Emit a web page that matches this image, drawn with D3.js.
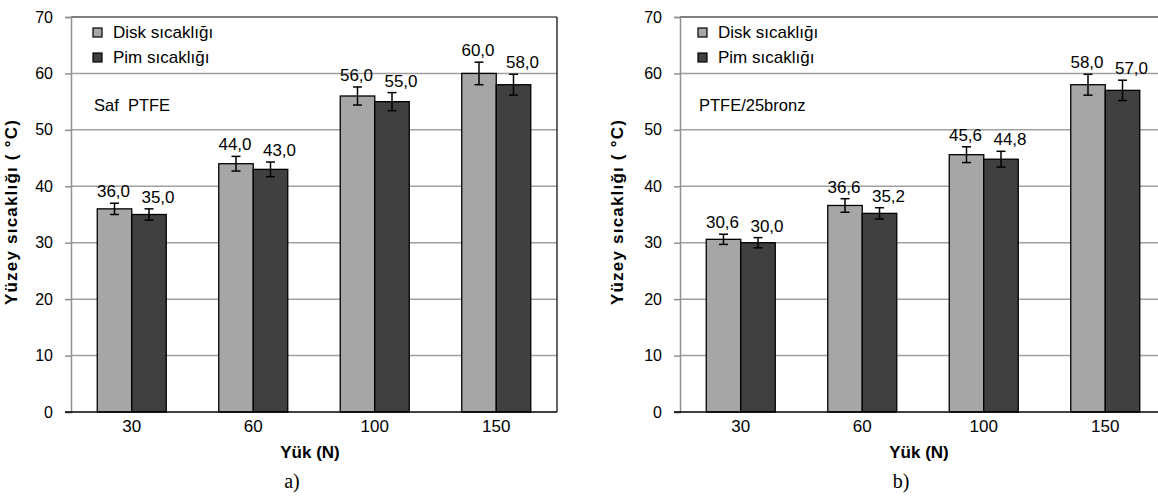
<!DOCTYPE html>
<html>
<head>
<meta charset="utf-8">
<script src="https://cdn.jsdelivr.net/npm/d3@7"></script>
<style>
  body { margin: 0; background: #fff; }
  svg { display: block; }
  text { font-family: Arial, "Liberation Sans", sans-serif; fill: #000; }
</style>
</head>
<body>
<script>
// data
var loads = ["30", "60", "100", "150"];
var seriesNames = ["Disk sıcaklığı", "Pim sıcaklığı"];
var yTicks = [0, 10, 20, 30, 40, 50, 60, 70];

var diskA = [36.0, 44.0, 56.0, 60.0];
var pimA = [35.0, 43.0, 55.0, 58.0];
var diskErrA = [1.0, 1.3, 1.6, 2.0];
var pimErrA = [1.0, 1.3, 1.6, 1.85];

var diskB = [30.6, 36.6, 45.6, 58.0];
var pimB = [30.0, 35.2, 44.8, 57.0];
var diskErrB = [0.9, 1.2, 1.4, 1.85];
var pimErrB = [0.9, 1.0, 1.4, 1.8];

var xTitle = "Yük (N)";
var yTitle = "Yüzey sıcaklığı ( °C)";

var W = 1158, H = 498;
var svg = d3.select("body").append("svg").attr("width", W).attr("height", H);

var fills = ["#a6a6a6", "#404040"];
var fmt = function (v) { return d3.format(".1f")(v).replace(".", ","); };

var panels = [
  { x0: 71, x1: 557, disk: diskA, pim: pimA, dErr: diskErrA, pErr: pimErrA, note: "Saf  PTFE", cap: "a)", legX: 22, labX: 54 },
  { x0: 680, x1: 1166, disk: diskB, pim: pimB, dErr: diskErrB, pErr: pimErrB, note: "PTFE/25bronz", cap: "b)", legX: 18, labX: 57 }
];

var plotTop = 17, plotBottom = 412;
var y = d3.scaleLinear().domain([0, 70]).range([plotBottom, plotTop]);

panels.forEach(function (p) {
  var g = svg.append("g");
  var x = d3.scaleBand().domain(loads).range([p.x0, p.x1]).paddingInner(0.432).paddingOuter(0.216);
  var xs = d3.scaleBand().domain([0, 1]).range([0, x.bandwidth()]);

  // gridlines
  g.selectAll("line.grid").data(yTicks.filter(function (t) { return t > 0 && t < 70; }))
    .enter().append("line")
    .attr("x1", p.x0).attr("x2", p.x1)
    .attr("y1", function (d) { return y(d); }).attr("y2", function (d) { return y(d); })
    .attr("stroke", "#a0a0a0").attr("stroke-width", 1.5);

  // plot border top / right
  g.append("line").attr("x1", p.x0).attr("x2", p.x1).attr("y1", y(70)).attr("y2", y(70))
    .attr("stroke", "#000").attr("stroke-width", 1.2);
  g.append("line").attr("x1", p.x1).attr("x2", p.x1).attr("y1", y(70)).attr("y2", y(0))
    .attr("stroke", "#000").attr("stroke-width", 1.2);

  // y axis
  var yAxis = d3.axisLeft(y).tickValues(yTicks).tickSize(6).tickPadding(12)
    .tickFormat(d3.format("d"));
  var ya = g.append("g").attr("transform", "translate(" + p.x0 + ",0)").call(yAxis);
  ya.select(".domain").attr("stroke", "#909090").attr("stroke-width", 1.5);
  ya.selectAll(".tick line").attr("stroke", "#909090").attr("stroke-width", 1.5);
  ya.selectAll(".tick text").attr("font-size", 16).attr("font-family", "Arial, 'Liberation Sans', sans-serif");

  // bars
  var series = [
    { vals: p.disk, errs: p.dErr, dx: -1 },
    { vals: p.pim, errs: p.pErr, dx: 9 }
  ];
  series.forEach(function (s, si) {
    var sg = g.append("g");
    sg.selectAll("rect").data(loads).enter().append("rect")
      .attr("x", function (d) { return x(d) + xs(si); })
      .attr("y", function (d, i) { return y(s.vals[i]); })
      .attr("width", xs.bandwidth())
      .attr("height", function (d, i) { return y(0) - y(s.vals[i]); })
      .attr("fill", fills[si]).attr("stroke", "#000").attr("stroke-width", 1.3);

    var cx = function (d) { return x(d) + xs(si) + xs.bandwidth() / 2; };
    // error bars
    sg.selectAll("line.err").data(loads).enter().append("line")
      .attr("x1", cx).attr("x2", cx)
      .attr("y1", function (d, i) { return y(s.vals[i] + s.errs[i]); })
      .attr("y2", function (d, i) { return y(s.vals[i] - s.errs[i]); })
      .attr("stroke", "#000").attr("stroke-width", 1.5);
    [1, -1].forEach(function (sign) {
      sg.selectAll(null).data(loads).enter().append("line")
        .attr("x1", function (d) { return cx(d) - 4.5; })
        .attr("x2", function (d) { return cx(d) + 4.5; })
        .attr("y1", function (d, i) { return y(s.vals[i] + sign * s.errs[i]); })
        .attr("y2", function (d, i) { return y(s.vals[i] + sign * s.errs[i]); })
        .attr("stroke", "#000").attr("stroke-width", 1.5);
    });
    // value labels
    sg.selectAll("text").data(loads).enter().append("text")
      .attr("x", function (d) { return cx(d) + s.dx; })
      .attr("y", function (d, i) { return y(s.vals[i] + s.errs[i]) - 6; })
      .attr("text-anchor", "middle").attr("font-size", 17)
      .text(function (d, i) { return fmt(s.vals[i]); });
  });

  // x axis
  var xAxis = d3.axisBottom(x).tickSize(0).tickPadding(8);
  var xa = g.append("g").attr("transform", "translate(0," + plotBottom + ")").call(xAxis);
  xa.select(".domain").remove();
  xa.selectAll(".tick text").attr("font-size", 17).attr("font-family", "Arial, 'Liberation Sans', sans-serif");
  g.append("line").attr("x1", p.x0 - 6).attr("x2", p.x1).attr("y1", plotBottom).attr("y2", plotBottom)
    .attr("stroke", "#000").attr("stroke-width", 1.5);

  // legend
  var lg = g.append("g").attr("transform", "translate(" + (p.x0 + p.legX) + ",28)");
  seriesNames.forEach(function (n, i) {
    lg.append("rect").attr("x", 0).attr("y", i * 25).attr("width", 9).attr("height", 9)
      .attr("fill", fills[i]).attr("stroke", "#000").attr("stroke-width", 1.2);
    lg.append("text").attr("x", 20).attr("y", i * 25 + 9.5).attr("font-size", 17).text(n);
  });

  // panel note
  g.append("text").attr("x", p.x0 + p.legX + 1).attr("y", 111).attr("font-size", 16.5)
    .style("white-space", "pre").text(p.note);

  // titles
  g.append("text").attr("x", (p.x0 + p.x1) / 2 - 4).attr("y", 458)
    .attr("text-anchor", "middle").attr("font-size", 17).attr("font-weight", "bold").text(xTitle);
  g.append("text").attr("x", (p.x0 + p.x1) / 2 - 22).attr("y", 488)
    .attr("text-anchor", "middle").attr("font-size", 20)
    .style("font-family", "'Liberation Serif', 'Times New Roman', serif").text(p.cap);
  g.append("text")
    .attr("transform", "translate(" + (p.x0 - p.labX) + "," + 212 + ") rotate(-90)")
    .attr("text-anchor", "middle").attr("font-size", 17).attr("font-weight", "bold")
    .attr("letter-spacing", 1.2).text(yTitle);
});
</script>
</body>
</html>
